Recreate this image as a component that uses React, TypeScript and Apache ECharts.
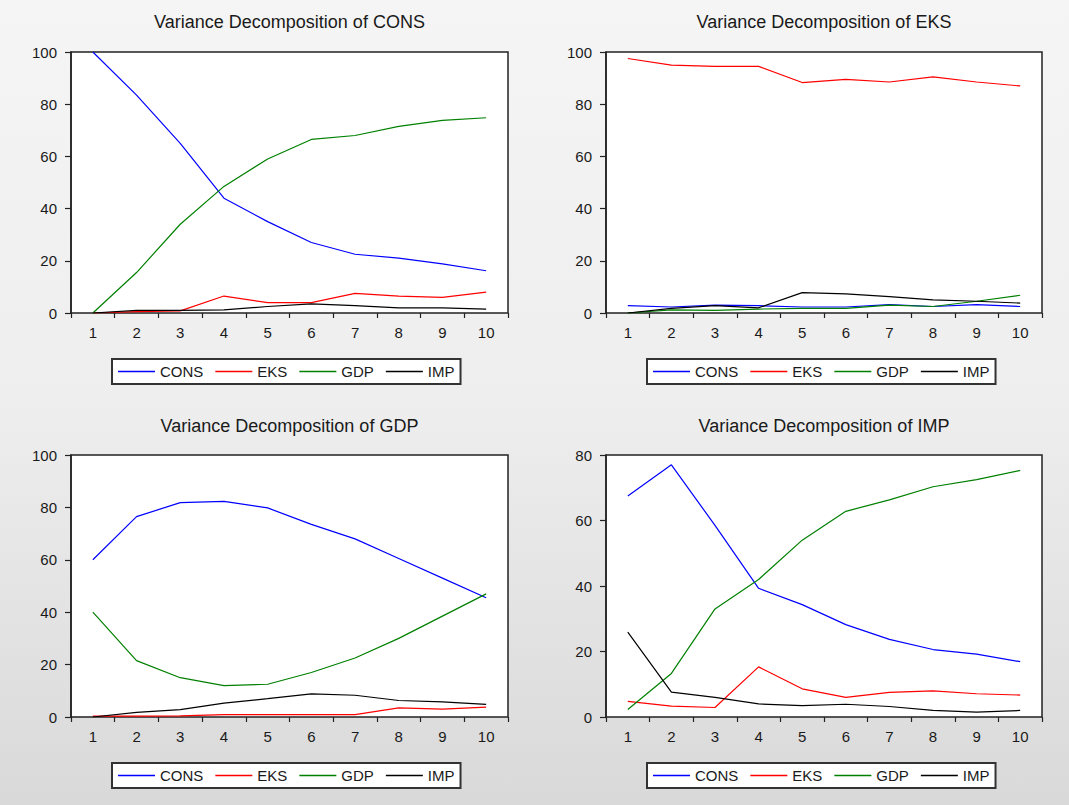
import React, { useEffect, useRef } from "react";
import * as echarts from "echarts";

const CATEGORIES = ["1", "2", "3", "4", "5", "6", "7", "8", "9", "10"];
const SERIES_NAMES = ["CONS", "EKS", "GDP", "IMP"];
const SERIES_COLORS = ["#0000ff", "#ff0000", "#008000", "#000000"];

const TITLES = [
  "Variance Decomposition of CONS",
  "Variance Decomposition of EKS",
  "Variance Decomposition of GDP",
  "Variance Decomposition of IMP",
];
const Y_MAX = [100, 100, 100, 80];

// Variance Decomposition of CONS
const P1_CONS = [100, 83.5, 65, 44, 35, 27, 22.5, 21, 18.8, 16.2];
const P1_EKS = [0, 0.5, 0.8, 6.5, 4, 4, 7.5, 6.5, 6, 8];
const P1_GDP = [0, 15.5, 34, 48.5, 59, 66.5, 68, 71.5, 73.8, 74.8];
const P1_IMP = [0, 1, 1, 1.2, 2.5, 3.5, 2.8, 2, 2, 1.5];

// Variance Decomposition of EKS
const P2_CONS = [2.8, 2.3, 3, 2.8, 2.3, 2.3, 3.2, 2.5, 3.2, 2.5];
const P2_EKS = [97.5, 95, 94.5, 94.5, 88.3, 89.5, 88.5, 90.5, 88.5, 87];
const P2_GDP = [0, 1.2, 1, 1.5, 1.8, 1.8, 3, 2.5, 4.5, 6.8];
const P2_IMP = [0, 1.8, 2.8, 2, 7.8, 7.3, 6.3, 5, 4.5, 3.8];

// Variance Decomposition of GDP
const P3_CONS = [60, 76.5, 81.8, 82.3, 79.8, 73.5, 68, 60.5, 53, 45.5];
const P3_EKS = [0.3, 0.3, 0.4, 0.9, 0.9, 0.9, 0.9, 3.5, 3, 3.8];
const P3_GDP = [40, 21.5, 15, 12, 12.5, 17, 22.5, 30, 38.5, 47];
const P3_IMP = [0, 1.8, 2.8, 5.3, 7, 8.8, 8.3, 6.3, 5.8, 4.8];

// Variance Decomposition of IMP
const P4_CONS = [67.5, 77, 58.5, 39.3, 34.3, 28.2, 23.7, 20.6, 19.2, 16.9];
const P4_EKS = [4.8, 3.3, 2.9, 15.3, 8.6, 6, 7.5, 8, 7.1, 6.7];
const P4_GDP = [2.3, 13.3, 33, 42, 54, 62.8, 66.3, 70.3, 72.5, 75.3];
const P4_IMP = [25.9, 7.6, 6, 4, 3.5, 3.9, 3.2, 2, 1.5, 2];

const PANEL_DATA = [
  [P1_CONS, P1_EKS, P1_GDP, P1_IMP],
  [P2_CONS, P2_EKS, P2_GDP, P2_IMP],
  [P3_CONS, P3_EKS, P3_GDP, P3_IMP],
  [P4_CONS, P4_EKS, P4_GDP, P4_IMP],
];

// layout (pixels)
const GRIDS = [
  { left: 71, top: 52, width: 437, height: 261 },
  { left: 606, top: 52, width: 436, height: 261 },
  { left: 71, top: 455, width: 437, height: 262 },
  { left: 606, top: 455, width: 436, height: 262 },
];
const TITLE_TOPS = [13, 13, 416.5, 416.5];
const LEGEND_POS = [
  { left: 112, top: 359 },
  { left: 647, top: 359 },
  { left: 112, top: 763 },
  { left: 647, top: 763 },
];

const FONT = '"Liberation Sans", Arial, sans-serif';
const TEXT_COLOR = "#1a1a1a";

export default function App() {
  const ref = useRef<HTMLDivElement>(null);

  useEffect(() => {
    if (!ref.current) return;
    const chart = echarts.init(ref.current, null, { renderer: "svg" });

    const title = TITLES.map((t, i) => ({
      text: t,
      left: GRIDS[i].left + GRIDS[i].width / 2,
      top: TITLE_TOPS[i],
      textAlign: "center",
      padding: 0,
      textStyle: {
        fontFamily: FONT,
        fontSize: 18,
        fontWeight: "normal",
        color: TEXT_COLOR,
      },
    }));

    const grid = GRIDS.map((g) => ({
      ...g,
      containLabel: false,
      outerBoundsMode: "none",
      show: true,
      backgroundColor: "#ffffff",
      borderColor: "#222222",
      borderWidth: 1.5,
    }));

    const xAxis = GRIDS.map((_, i) => ({
      type: "category",
      gridIndex: i,
      data: CATEGORIES,
      boundaryGap: true,
      offset: 3,
      axisLine: { show: false },
      axisTick: {
        show: true,
        length: 5,
        lineStyle: { color: "#222222", width: 1.2 },
      },
      axisLabel: {
        margin: 9,
        fontFamily: FONT,
        fontSize: 15,
        color: TEXT_COLOR,
      },
      splitLine: { show: false },
    }));

    const yAxis = GRIDS.map((_, i) => ({
      type: "value",
      gridIndex: i,
      min: 0,
      max: Y_MAX[i],
      interval: 20,
      axisLine: { show: true, lineStyle: { color: "#222222", width: 1.5 } },
      axisTick: {
        show: true,
        length: 6,
        lineStyle: { color: "#222222", width: 1.2 },
      },
      axisLabel: {
        margin: 14,
        fontFamily: FONT,
        fontSize: 15,
        color: TEXT_COLOR,
      },
      splitLine: { show: false },
    }));

    const legend = LEGEND_POS.map((p) => ({
      data: SERIES_NAMES.map((n) => ({ name: n, icon: "rect" })),
      left: p.left,
      top: p.top,
      orient: "horizontal",
      icon: "rect",
      itemWidth: 37,
      itemHeight: 1.5,
      itemGap: 12,
      padding: [5, 6],
      backgroundColor: "#ffffff",
      borderColor: "#333333",
      borderWidth: 2,
      selectedMode: false,
      textStyle: { fontFamily: FONT, fontSize: 15, color: TEXT_COLOR },
    }));

    const series: any[] = [];
    PANEL_DATA.forEach((panel, i) => {
      panel.forEach((values, k) => {
        series.push({
          name: SERIES_NAMES[k],
          type: "line",
          xAxisIndex: i,
          yAxisIndex: i,
          data: values,
          symbol: "none",
          showSymbol: false,
          smooth: false,
          lineStyle: { color: SERIES_COLORS[k], width: 1.2 },
          itemStyle: { color: SERIES_COLORS[k] },
          z: 2,
        });
      });
    });

    chart.setOption({
      animation: false,
      backgroundColor: "transparent",
      title,
      grid,
      xAxis,
      yAxis,
      legend,
      series,
    });

    return () => chart.dispose();
  }, []);

  return (
    <div
      ref={ref}
      style={{
        position: "fixed",
        left: 0,
        top: 0,
        width: 1069,
        height: 805,
        background: "linear-gradient(#f5f5f5 0%, #eeeeee 50%, #d9d9d9 100%)",
      }}
    />
  );
}
